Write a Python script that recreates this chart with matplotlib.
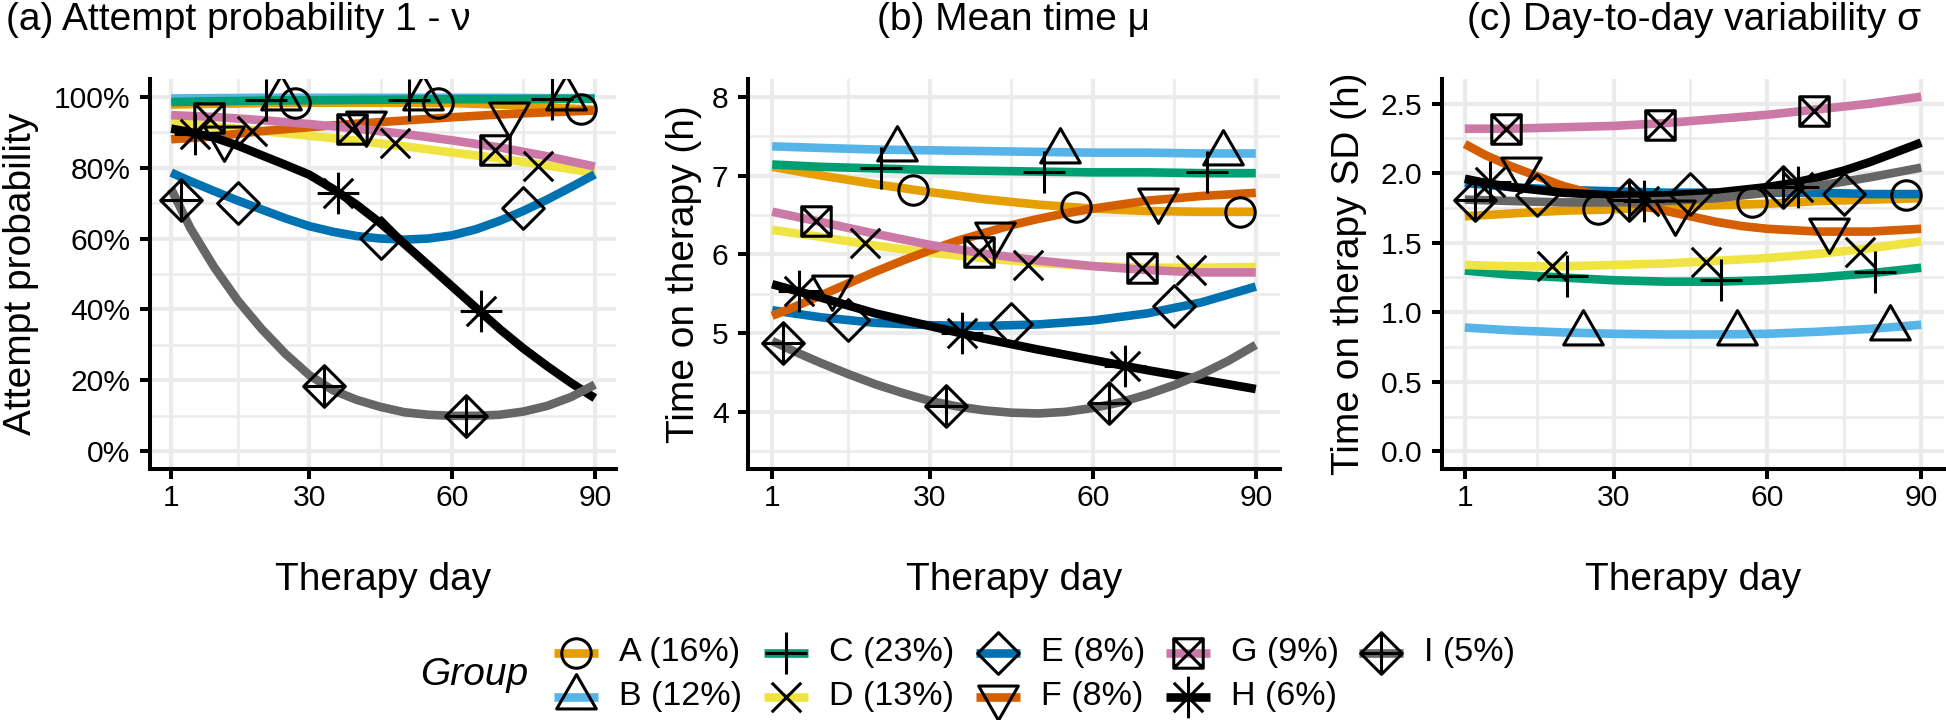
import numpy as np
import matplotlib
matplotlib.use("Agg")
import matplotlib.pyplot as plt
from matplotlib.path import Path

plt.rcParams['font.family'] = ['Liberation Sans', 'DejaVu Sans']

# ---------------- data ----------------
days = [1, 10, 20, 30, 40, 50, 60, 70, 80, 90]
days_fine = [1, 5, 10, 15, 20, 25, 30, 35, 40, 45, 50, 55, 60, 65, 70, 75, 80, 85, 90]
groups = ['A', 'B', 'C', 'D', 'E', 'F', 'G', 'H', 'I']
shares = ['16%', '12%', '23%', '13%', '8%', '8%', '9%', '6%', '5%']
colors = ['#E69F00', '#56B4E9', '#009E73', '#F0E442', '#0072B2',
          '#D55E00', '#CC79A7', '#000000', '#666666']
marker_days = [[27, 57, 87], [24, 54, 84], [21, 51, 81], [18, 48, 78],
               [15, 45, 75], [12, 42, 72], [9, 39, 69], [6, 36, 66], [3, 33, 63]]

# (a) attempt probability, percent
attempt_A = [97.8, 98.0, 98.2, 98.3, 98.3, 98.3, 98.2, 97.8, 97.0, 96.3]
attempt_B = [99.5, 99.6, 99.7, 99.7, 99.7, 99.7, 99.7, 99.7, 99.6, 99.6]
attempt_C = [98.5, 98.7, 98.9, 99.0, 99.1, 99.2, 99.3, 99.3, 99.4, 99.4]
attempt_D = [92.7, 91.6, 90.3, 89.0, 87.6, 86.0, 84.3, 82.6, 80.6, 78.5]
attempt_E = [78.6, 76.2, 73.4, 70.7, 68.2, 65.7, 63.5, 61.9, 60.7, 60.0,
             59.7, 60.0, 60.9, 62.6, 65.0, 67.8, 71.0, 74.5, 78.1]
attempt_F = [88.0, 88.8, 90.3, 91.4, 92.4, 93.3, 94.2, 95.0, 95.6, 96.1]
attempt_G = [94.8, 94.3, 93.4, 92.3, 91.0, 89.5, 87.7, 85.7, 83.2, 80.3]
attempt_H = [91.0, 90.0, 88.5, 86.2, 83.5, 80.8, 78.0, 74.0, 69.5, 64.3,
             58.5, 52.5, 46.5, 40.5, 34.5, 29.0, 24.0, 19.3, 15.0]
attempt_I = [74.0, 63.0, 52.0, 42.5, 34.5, 27.5, 21.5, 17.2, 14.5, 12.5,
             11.0, 10.3, 10.0, 10.0, 10.3, 11.2, 12.8, 15.3, 18.8]
attempt_points = [
    [98.3, 98.3, 96.5], [99.7, 99.7, 99.7], [99.0, 99.2, 99.4],
    [90.3, 87.0, 80.4], [69.9, 60.2, 68.5], [88.5, 92.7, 95.0],
    [94.1, 90.8, 85.1], [89.5, 72.9, 39.5], [71.0, 18.3, 10.0],
]

# (b) mean time on therapy, hours
mean_A = [7.11, 7.00, 6.89, 6.79, 6.70, 6.63, 6.58, 6.55, 6.54, 6.54]
mean_B = [7.37, 7.35, 7.33, 7.32, 7.31, 7.30, 7.29, 7.29, 7.28, 7.28]
mean_C = [7.14, 7.11, 7.09, 7.07, 7.06, 7.05, 7.04, 7.04, 7.03, 7.03]
mean_D = [6.31, 6.22, 6.11, 6.02, 5.95, 5.89, 5.85, 5.83, 5.83, 5.84]
mean_E = [5.29, 5.20, 5.13, 5.10, 5.09, 5.11, 5.16, 5.25, 5.39, 5.59]
mean_F = [5.22, 5.33, 5.48, 5.63, 5.78, 5.92, 6.05, 6.17, 6.27, 6.37,
          6.45, 6.52, 6.58, 6.63, 6.68, 6.71, 6.74, 6.76, 6.78]
mean_G = [6.54, 6.41, 6.26, 6.12, 6.01, 5.92, 5.85, 5.80, 5.77, 5.77]
mean_H = [5.62, 5.45, 5.25, 5.09, 4.93, 4.79, 4.66, 4.53, 4.41, 4.29]
mean_I = [4.90, 4.77, 4.62, 4.48, 4.35, 4.24, 4.14, 4.07, 4.02, 3.99,
          3.98, 4.00, 4.05, 4.12, 4.22, 4.34, 4.48, 4.65, 4.85]
mean_points = [
    [6.81, 6.60, 6.54], [7.34, 7.31, 7.29], [7.09, 7.05, 7.04],
    [6.14, 5.86, 5.80], [5.17, 5.11, 5.34], [5.59, 6.26, 6.69],
    [6.42, 6.03, 5.82], [5.53, 5.00, 4.58], [4.88, 4.07, 4.11],
]

# (c) day-to-day SD, hours
sd_A = [1.69, 1.71, 1.73, 1.74, 1.76, 1.77, 1.78, 1.80, 1.81, 1.82]
sd_B = [0.89, 0.87, 0.855, 0.845, 0.84, 0.84, 0.845, 0.86, 0.88, 0.91]
sd_C = [1.30, 1.27, 1.25, 1.23, 1.22, 1.22, 1.23, 1.25, 1.28, 1.32]
sd_D = [1.34, 1.33, 1.33, 1.34, 1.35, 1.37, 1.39, 1.42, 1.46, 1.51]
sd_E = [1.93, 1.90, 1.88, 1.87, 1.86, 1.86, 1.86, 1.86, 1.85, 1.85]
sd_F = [2.21, 2.13, 2.05, 1.98, 1.91, 1.86, 1.82, 1.77, 1.73, 1.69,
        1.65, 1.62, 1.60, 1.59, 1.58, 1.58, 1.58, 1.59, 1.60]
sd_G = [2.32, 2.32, 2.33, 2.34, 2.36, 2.39, 2.42, 2.46, 2.50, 2.55]
sd_H = [1.96, 1.93, 1.90, 1.88, 1.86, 1.85, 1.84, 1.84, 1.84, 1.85,
        1.86, 1.88, 1.90, 1.93, 1.97, 2.02, 2.08, 2.15, 2.22]
sd_I = [1.81, 1.80, 1.79, 1.79, 1.80, 1.82, 1.86, 1.91, 1.97, 2.04]
sd_points = [
    [1.74, 1.79, 1.84], [0.85, 0.85, 0.89], [1.26, 1.23, 1.29],
    [1.33, 1.36, 1.43], [1.84, 1.85, 1.85], [2.03, 1.72, 1.59],
    [2.32, 2.35, 2.45], [1.94, 1.80, 1.90], [1.81, 1.81, 1.90],
]

attempt_curves = [attempt_A, attempt_B, attempt_C, attempt_D, attempt_E,
                  attempt_F, attempt_G, attempt_H, attempt_I]
mean_curves = [mean_A, mean_B, mean_C, mean_D, mean_E, mean_F, mean_G, mean_H, mean_I]
sd_curves = [sd_A, sd_B, sd_C, sd_D, sd_E, sd_F, sd_G, sd_H, sd_I]

x_ticks = [1, 30, 60, 90]
x_minor = [15, 45, 75]

# ---------------- marker shapes (R pch 1..9) ----------------
M, L, C = Path.MOVETO, Path.LINETO, Path.CLOSEPOLY
s2 = np.sqrt(2)
t0, t1, t2 = 1.5551, 1.3468, 0.7776
shapes = [
    (Path.unit_circle(), 1.0),
    (Path([(0, t0), (t1, -t2), (-t1, -t2), (0, t0)], [M, L, L, C]), t0),
    (Path([(-s2, 0), (s2, 0), (0, -s2), (0, s2)], [M, L, M, L]), s2),
    (Path([(-1, -1), (1, 1), (-1, 1), (1, -1)], [M, L, M, L]), 1.0),
    (Path([(0, s2), (s2, 0), (0, -s2), (-s2, 0), (0, s2)], [M, L, L, L, C]), s2),
    (Path([(0, -t0), (t1, t2), (-t1, t2), (0, -t0)], [M, L, L, C]), t0),
    (Path([(-1, -1), (1, -1), (1, 1), (-1, 1), (-1, -1), (-1, -1), (1, 1), (-1, 1), (1, -1)],
          [M, L, L, L, C, M, L, M, L]), 1.0),
    (Path([(-s2, 0), (s2, 0), (0, -s2), (0, s2), (-1, -1), (1, 1), (-1, 1), (1, -1)],
          [M, L, M, L, M, L, M, L]), s2),
    (Path([(0, s2), (s2, 0), (0, -s2), (-s2, 0), (0, s2), (-s2, 0), (s2, 0), (0, -s2), (0, s2)],
          [M, L, L, L, C, M, L, M, L]), s2),
]
R0 = 10.6        # base symbol radius in points
LW = 6.2         # curve width
MEW = 2.2        # marker stroke

W, H = 1946, 720
fig = plt.figure(figsize=(W / 100, H / 100), dpi=100)


def px_axes(l, r, t, b):
    return fig.add_axes([l / W, 1 - b / H, (r - l) / W, (b - t) / H])


def draw_panel(ax, curves, points, ylim, yticks, ylabels, yminor):
    for i in range(len(groups)):
        xs = days if len(curves[i]) == len(days) else days_fine
        ax.plot(xs, curves[i], color=colors[i], lw=LW, solid_capstyle='butt',
                solid_joinstyle='round', zorder=2)
    for i in range(len(groups)):
        path, ext = shapes[i]
        ax.plot(marker_days[i], points[i], ls='none', marker=path, ms=2 * ext * R0,
                mfc='none', mec='black', mew=MEW, zorder=3)
    ax.set_xlim(-3.45, 94.45)
    ax.set_ylim(*ylim)
    ax.set_xticks(x_ticks)
    ax.set_xticklabels([str(t) for t in x_ticks])
    ax.set_xticks(x_minor, minor=True)
    ax.set_yticks(yticks)
    ax.set_yticklabels(ylabels)
    ax.set_yticks(yminor, minor=True)
    ax.grid(which='major', color='#EBEBEB', lw=3.0)
    ax.grid(which='minor', color='#EBEBEB', lw=1.8)
    ax.set_axisbelow(True)
    for s in ['top', 'right']:
        ax.spines[s].set_visible(False)
    for s in ['left', 'bottom']:
        ax.spines[s].set_linewidth(2.9)
        ax.spines[s].set_capstyle('projecting')
    ax.tick_params(which='major', length=7, width=2.9, labelsize=21.6,
                   color='black', labelcolor='black')
    ax.tick_params(axis='y', which='major', pad=7)
    ax.tick_params(axis='x', which='major', pad=4)
    ax.tick_params(which='minor', length=0)


ax_a = px_axes(150, 616, 79, 469)
draw_panel(ax_a, attempt_curves, attempt_points, (-5.0, 105.0),
           [0, 20, 40, 60, 80, 100], ['0%', '20%', '40%', '60%', '80%', '100%'],
           [10, 30, 50, 70, 90])

ax_b = px_axes(748, 1280, 79, 469)
draw_panel(ax_b, mean_curves, mean_points, (3.275, 8.225),
           [4, 5, 6, 7, 8], ['4', '5', '6', '7', '8'], [3.5, 4.5, 5.5, 6.5, 7.5])

ax_c = px_axes(1442, 1944, 79, 469)
draw_panel(ax_c, sd_curves, sd_points, (-0.1275, 2.6775),
           [0, 0.5, 1.0, 1.5, 2.0, 2.5], ['0.0', '0.5', '1.0', '1.5', '2.0', '2.5'],
           [0.25, 0.75, 1.25, 1.75, 2.25])

# ---------------- texts ----------------
TITLE = 28
AXT = 28
fig.text(6 / W, 1 - 20 / H, '(a) Attempt probability 1 - ν', ha='left', va='center', fontsize=TITLE)
fig.text(1014 / W, 1 - 20 / H, '(b) Mean time μ', ha='center', va='center', fontsize=TITLE)
fig.text(1694 / W, 1 - 20 / H, '(c) Day-to-day variability σ', ha='center', va='center', fontsize=TITLE)

fig.text(21 / W, 1 - 274 / H, 'Attempt probability', rotation=90, ha='center', va='center', fontsize=AXT)
fig.text(684 / W, 1 - 274 / H, 'Time on therapy (h)', rotation=90, ha='center', va='center', fontsize=AXT)
fig.text(1349 / W, 1 - 274 / H, 'Time on therapy SD (h)', rotation=90, ha='center', va='center', fontsize=AXT)

for (l, r) in [(150, 616), (748, 1280), (1442, 1944)]:
    fig.text((l + r) / 2 / W, 1 - 580 / H, 'Therapy day', ha='center', va='center', fontsize=AXT)

# ---------------- legend ----------------
lg = fig.add_axes([0, 0, 1, 1])
lg.set_xlim(0, W)
lg.set_ylim(H, 0)
lg.axis('off')
lg.patch.set_alpha(0)
fig.text(474 / W, 1 - 675 / H, 'Group', ha='center', va='center', fontsize=AXT, style='italic')
key_x = [576, 576, 786, 786, 998, 998, 1188, 1188, 1381]
key_y = [653, 697, 653, 697, 653, 697, 653, 697, 653]
for i in range(len(groups)):
    kx, ky = key_x[i], key_y[i]
    lg.plot([kx - 22, kx + 22], [ky, ky], color=colors[i], lw=LW, solid_capstyle='butt')
    path, ext = shapes[i]
    lg.plot([kx], [ky], ls='none', marker=path, ms=2 * ext * R0, mfc='none',
            mec='black', mew=MEW)
    lg.text(kx + 43, ky, f'{groups[i]} ({shares[i]})', ha='left', va='center', fontsize=24.5)

fig.savefig('out.png', dpi=100, facecolor='white')
